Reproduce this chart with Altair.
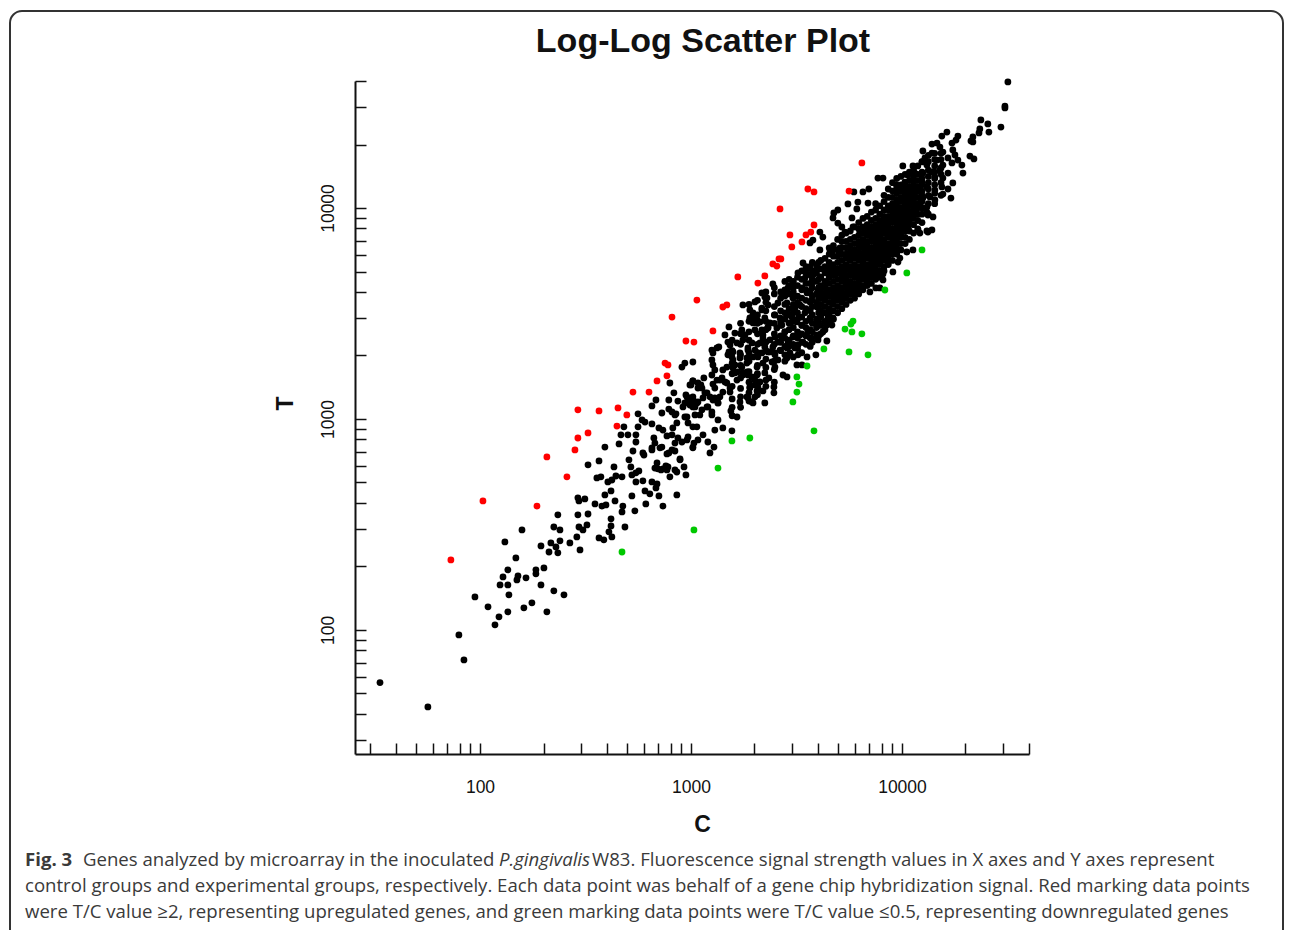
import altair as alt
import pandas as pd

# Values as log10(signal): (log10 C, log10 T)
red_pts = [(1.867,2.333),(2.019,2.614),(2.275,2.590),(2.322,2.824),(2.417,2.729),(2.455,2.857),(2.469,2.914),
 (2.469,3.048),(2.517,2.938),(2.569,3.043),(2.659,3.057),(2.654,2.971),(2.701,3.024),(2.730,3.133),(2.806,3.133),
 (2.844,3.186),(2.882,3.271),(2.896,3.262),(2.891,3.210),(2.915,3.490),(2.981,3.376),(3.019,3.371),(3.033,3.571),
 (3.109,3.424),(3.156,3.538),(3.175,3.548),(3.227,3.681),(3.322,3.652),(3.355,3.686),(3.393,3.743),(3.412,3.733),
 (3.422,3.767),(3.431,3.767),(3.483,3.824),(3.531,3.848),(3.427,4.005),(3.474,3.881),(3.550,3.881),(3.573,3.895),
 (3.588,3.929),(3.559,4.100),(3.588,4.086),(3.754,4.090),(3.815,4.224)]

green_pts = [(2.678,2.371),(3.019,2.476),(3.133,2.771),(3.199,2.900),(3.284,2.914),(3.588,2.948),(3.488,3.086),
 (3.507,3.133),(3.517,3.171),(3.507,3.205),(3.555,3.257),(3.635,3.338),(3.754,3.324),(3.844,3.310),(3.815,3.410),
 (3.768,3.419),(3.735,3.433),(3.763,3.457),(3.773,3.471),(3.924,3.619),(4.028,3.700),(4.100,3.810)]

black_low = [(1.531,1.749),(1.758,1.633),(1.929,1.857),(1.905,1.976),(2.076,2.024),(2.095,2.062),(2.043,2.110),
 (1.981,2.157),(2.137,2.086),(2.213,2.105),(2.251,2.129),(2.322,2.086),(2.142,2.167),(2.100,2.214),(2.137,2.214),
 (2.114,2.252),(2.137,2.286),(2.180,2.238),(2.185,2.257),(2.223,2.248),(2.270,2.267),(2.270,2.286),(2.308,2.295),
 (2.294,2.214),(2.355,2.186),(2.403,2.167),(2.175,2.343),(2.123,2.419),(2.204,2.476),(2.294,2.400),(2.341,2.414),
 (2.332,2.371),(2.374,2.367),(2.365,2.395),(2.384,2.424),(2.355,2.490),(2.384,2.476),(2.374,2.548),(2.431,2.414),
 (2.479,2.381),(2.464,2.443),(2.474,2.490),(2.493,2.476),(2.512,2.500),(2.469,2.548),(2.517,2.552),(2.469,2.629),
 (2.474,2.614),(2.502,2.624),(2.550,2.600),(2.583,2.590),(2.602,2.595),(2.626,2.529),(2.626,2.495),(2.616,2.467),
 (2.630,2.443),(2.569,2.438),(2.592,2.429),(2.692,2.490),(2.678,2.562),(2.682,2.590),(2.645,2.614),(2.597,2.643),
 (2.626,2.662),(2.739,2.567),(2.725,2.638),(2.791,2.600),(2.872,2.590),(2.853,2.638),(2.810,2.648),(2.787,2.662),
 (2.938,2.643),(2.559,2.724),(2.578,2.729),(2.611,2.705),(2.630,2.714),(2.649,2.733),(2.678,2.729),(2.744,2.705),
 (2.777,2.710),(2.820,2.705),(2.844,2.695),(2.839,2.676),(2.725,2.738),(2.744,2.748),(2.758,2.757),(2.517,2.786),
 (2.569,2.805),(2.640,2.776),(2.711,2.810),(2.720,2.776),(2.597,2.871),(2.664,2.886),(2.730,2.852),(2.744,2.895),
 (2.673,2.929),(2.706,2.929),(2.744,2.929),(2.687,2.967),(2.777,2.843),(2.782,2.833),(2.820,2.867),(2.867,2.871),
 (2.900,2.843),(2.929,2.852),(2.844,2.795),(2.872,2.767),(2.896,2.776),(2.863,2.762),(2.938,2.752),(2.905,2.729),
 (2.953,2.810),(2.981,2.738),(2.972,2.776)]

black_mid = [(2.754,3.029),(2.773,3.000),(2.787,2.990),(2.754,2.967),(2.820,2.981),(2.820,3.067),(2.839,3.095),
 (2.867,3.033),(2.900,3.095),(2.900,3.052),(2.924,3.129),(2.905,3.176),(2.943,3.090),(2.915,3.038),(2.934,3.029),
 (2.967,3.062),(2.981,3.119),(2.991,3.100),(3.000,3.071),(3.024,3.086),(3.014,3.186),(3.005,3.167),(3.038,3.152),
 (3.033,3.081),(3.014,3.062),(2.986,3.014),(2.991,2.986),(3.024,3.024),(3.014,2.967),(2.938,2.986),(2.919,2.962),
 (2.853,2.962),(2.872,2.952),(2.829,2.914),(2.834,2.890),(2.891,2.924),(2.915,2.929),(2.943,2.914),(2.962,2.895),
 (2.991,2.919),(3.019,2.890),(3.038,2.905),(2.929,2.890),(2.915,2.857),(2.891,2.838),(2.858,2.867),(2.820,2.857),
 (3.014,2.867),(2.953,2.814),(2.834,2.771),(2.848,2.767),(2.886,2.781),(2.891,2.762),(2.929,2.762),
 (3.199,2.948),(3.133,3.000),(3.156,2.962),(3.114,2.871),(3.085,2.895),(3.095,2.843),(3.118,2.952),(3.062,2.929),
 (3.014,2.871),(2.986,2.905),(2.976,3.014),(3.047,3.024),(3.033,2.967),(3.270,3.110),(3.299,3.081),(3.403,3.252)]

black_band = [(2.976,3.271),(3.014,3.276),(2.962,3.252),(3.014,3.186),(3.000,3.167),(3.066,3.200),(3.052,3.167),
 (3.109,3.171),(3.118,3.152),(3.081,3.129),(3.062,3.105),(3.038,3.086),(3.014,3.095),(2.986,3.110),(2.976,3.081),
 (3.024,3.062),(3.057,3.048),(3.085,3.062),(3.104,3.024),(3.133,3.081),(3.194,3.043),(3.223,3.014),(3.109,3.095),
 (3.142,3.110),(3.156,3.133),(3.128,3.190),(3.152,3.200),(3.175,3.176),(3.190,3.152),(3.223,3.190),(3.251,3.214),
 (3.270,3.229),(3.294,3.205),(3.318,3.214),(3.332,3.181),(3.308,3.167),(3.284,3.152),(3.318,3.138),(3.346,3.138),
 (3.308,3.110),(3.355,3.081),(3.275,3.105),(3.237,3.086),(3.294,3.086),(3.398,3.157),(3.398,3.129),(3.374,3.200),
 (3.441,3.214),(3.460,3.205),(3.104,3.286),(3.109,3.262),(3.118,3.238),(3.104,3.333),(3.137,3.348),(3.156,3.238),
 (3.175,3.252),(3.190,3.357),(3.185,3.324),(3.199,3.300),(3.204,3.286),(3.213,3.262),(3.237,3.295),(3.246,3.252),
 (3.213,3.224),(3.270,3.271),(3.284,3.300),(3.275,3.343),(3.294,3.367),(3.213,3.414),(3.246,3.429),(3.261,3.405),
 (3.185,3.443),(3.251,3.381),(3.223,3.367),(3.308,3.333),(3.322,3.300),(3.318,3.252),(3.346,3.271),(3.355,3.224),
 (3.332,3.367),(3.346,3.390),(3.379,3.381),(3.403,3.395),(3.417,3.371),(3.393,3.348),(3.370,3.324),(3.403,3.310),
 (3.427,3.333),(3.389,3.276),(3.417,3.286),(3.460,3.295),(3.474,3.319),(3.498,3.343),(3.512,3.310),(3.555,3.300),
 (3.597,3.310),(3.507,3.262),(3.531,3.262),(3.649,3.376),(3.607,3.381),(3.578,3.390),(3.536,3.371),(3.512,3.357),
 (3.465,3.367),(3.460,3.343),(3.488,3.395),(3.521,3.405),(3.559,3.419),(3.602,3.405),(3.630,3.419),(3.673,3.452),
 (3.649,3.452),(3.678,3.486),(3.251,3.548),(3.308,3.562),(3.341,3.524),(3.284,3.524),(3.294,3.490),(3.318,3.476),
 (3.299,3.462),(3.341,3.605),(3.365,3.581),(3.370,3.548),(3.393,3.648),(3.355,3.486),(3.379,3.462),(3.403,3.500),
 (3.341,3.429),(3.370,3.438),(3.308,3.429),(3.412,3.438),(3.436,3.452),(3.427,3.486),(3.450,3.419),(3.474,3.462),
 (3.450,3.510),(3.483,3.490),(3.507,3.467),(3.531,3.452),(3.417,3.557),(3.441,3.595),(3.465,3.629),(3.460,3.557),
 (3.488,3.581),(3.498,3.533),(3.521,3.548),(3.545,3.510),(3.569,3.486),(3.602,3.452),(3.488,3.657),(3.512,3.700),
 (3.531,3.629),(3.555,3.605),(3.578,3.571),(3.602,3.538),(3.630,3.510),(3.654,3.486),(3.545,3.676),(3.578,3.652),
 (3.607,3.619),(3.640,3.586),(3.673,3.557),(3.616,3.681),(3.649,3.652),(3.678,3.619),(3.697,3.586),(3.559,3.724),
 (3.536,3.748),(3.602,3.729),(3.654,3.729),(3.687,3.690),(3.583,3.690)]

black_extra = [(2.929,3.024),(3.000,3.095),(3.014,3.110),(3.038,3.176),(3.057,3.152),(3.071,3.129),(3.095,3.110),
 (3.118,3.105),(3.133,3.081),(3.081,3.062),(3.104,3.038),(3.190,3.133),(3.104,3.214),(3.142,3.190),(3.166,3.181),
 (3.204,3.248),(3.227,3.229),(3.251,3.224),(3.275,3.214),(3.308,3.190),(3.322,3.157),(3.284,3.157),(3.180,3.310),
 (3.204,3.324),(3.237,3.319),(3.275,3.333),(3.270,3.295),(3.299,3.300),(3.341,3.319),(3.355,3.348),(3.379,3.324),
 (3.346,3.405),(3.370,3.443),(3.332,3.467),(3.284,3.486),(3.299,3.510),(3.341,3.533),(3.355,3.586),(3.128,3.343),
 (3.109,3.319),(3.180,3.371),(3.166,3.405)]

black_high = [(3.891,4.152),(3.915,4.152),(3.777,4.086),(3.820,4.086),(3.848,4.100),(3.749,4.029),(3.796,4.038),
 (3.844,4.033),(3.701,4.000),(3.791,4.005),(3.682,3.986),(3.678,3.962),(3.701,3.938),(3.720,3.919),(3.735,3.895),
 (3.768,3.962),(3.773,3.919),(3.616,3.895),(3.630,3.871),(3.583,3.857),(3.569,3.843),(3.616,3.810),(3.664,3.810),
 (3.678,3.810),(3.711,3.819),(4.128,3.895),(4.090,3.890),(4.057,3.810),(4.028,3.800),(3.995,3.771),(3.986,3.752),
 (3.962,3.705),(3.915,3.695),(3.886,3.681),(3.915,3.667),(3.900,3.629),(3.881,3.629),(3.853,3.610),
 (4.507,4.610),(4.493,4.495),(4.493,4.486),(4.379,4.429),(4.412,4.410),(4.474,4.395),(4.417,4.371),(4.374,4.386),
 (4.370,4.367),(4.218,4.371),(4.194,4.352),(4.270,4.352),(4.261,4.333),(4.242,4.319),(4.341,4.348),(4.332,4.329),
 (4.341,4.324),(4.327,4.257),(4.346,4.243),(4.147,4.314),(4.171,4.319),(4.185,4.300),(4.104,4.281),(4.147,4.271),
 (4.199,4.276),(4.246,4.286),(4.256,4.262),(4.223,4.248),(4.114,4.248),(4.100,4.229),(4.123,4.214),(4.171,4.238),
 (4.199,4.214),(4.242,4.224),(4.270,4.238),(4.289,4.214),(4.294,4.176),(4.009,4.210),(4.057,4.210),(4.223,4.176),
 (4.185,4.190),(4.147,4.181),(4.246,4.129),(4.199,4.152),(4.066,4.176),(4.033,4.167),(4.104,4.176),(4.161,4.157),
 (4.194,4.110),(4.223,4.100),(4.199,4.076),(4.237,4.057),(4.152,3.967),(4.123,3.990),(4.128,3.976),(4.147,3.905),
 (4.123,3.900),(4.081,3.905),(4.104,4.057),(4.137,4.062),(4.161,4.048),(4.123,4.014),(4.090,4.033),(4.066,4.062),
 (4.028,4.081),(4.076,4.105),(4.123,4.110),(4.161,4.095),(3.981,4.119),(4.019,4.133),(4.057,4.143),(4.100,4.133)]

# Dense core, read column by column: (log10 C, [log10 T, ...])
core_cols = [
 (3.20,[3.02,3.06,3.10,3.16,3.22,3.27,3.33,3.38]),(3.24,[3.06,3.11,3.15,3.20,3.26,3.31,3.36,3.41,3.46]),
 (3.28,[3.09,3.13,3.18,3.23,3.28,3.32,3.38,3.42,3.47,3.55]),(3.32,[3.12,3.17,3.22,3.26,3.32,3.36,3.41,3.46,3.50,3.57]),
 (3.36,[3.16,3.19,3.25,3.29,3.33,3.37,3.43,3.47,3.52,3.56,3.61]),(3.40,[3.18,3.24,3.28,3.32,3.36,3.41,3.46,3.50,3.54,3.60,3.63]),
 (3.45,[3.28,3.31,3.35,3.39,3.42,3.48,3.55,3.59,3.62,3.66]),(3.49,[3.30,3.36,3.40,3.44,3.47,3.51,3.55,3.61,3.63,3.66]),
 (3.53,[3.32,3.37,3.41,3.45,3.49,3.54,3.58,3.62,3.67,3.71]),(3.57,[3.35,3.39,3.43,3.48,3.52,3.56,3.61,3.65,3.69,3.73]),
 (3.61,[3.40,3.47,3.51,3.54,3.58,3.63,3.67,3.72,3.75]),
 (3.43,[3.33,3.37,3.40,3.45,3.47,3.52,3.58,3.61]),(3.47,[3.35,3.38,3.43,3.46,3.50,3.53,3.60,3.64,3.67]),
 (3.51,[3.34,3.39,3.42,3.48,3.51,3.56,3.59,3.64,3.68]),(3.55,[3.36,3.40,3.44,3.47,3.53,3.57,3.62,3.65,3.70,3.73]),
 (3.58,[3.37,3.42,3.46,3.50,3.54,3.59,3.63,3.67,3.71,3.75]),(3.60,[3.44,3.48,3.56,3.60,3.66,3.70,3.74]),
 (3.62,[3.41,3.45,3.49,3.52,3.55,3.58,3.61,3.64,3.68,3.72,3.76]),(3.64,[3.43,3.47,3.51,3.54,3.57,3.60,3.63,3.66,3.70,3.73,3.77]),
 (3.66,[3.47,3.50,3.53,3.56,3.59,3.62,3.65,3.68,3.71,3.75,3.79,3.82]),(3.68,[3.48,3.52,3.55,3.58,3.60,3.63,3.66,3.69,3.72,3.74,3.78,3.83]),
 (3.70,[3.51,3.54,3.57,3.59,3.62,3.64,3.67,3.70,3.72,3.75,3.78,3.81,3.86]),(3.72,[3.53,3.56,3.58,3.61,3.63,3.66,3.68,3.71,3.73,3.76,3.79,3.82,3.85,3.88]),
 (3.74,[3.55,3.58,3.60,3.63,3.65,3.67,3.69,3.72,3.74,3.77,3.79,3.82,3.85,3.89]),(3.76,[3.57,3.60,3.62,3.64,3.66,3.69,3.71,3.73,3.76,3.78,3.80,3.83,3.86,3.90]),
 (3.78,[3.58,3.61,3.63,3.65,3.68,3.70,3.72,3.74,3.77,3.79,3.81,3.84,3.87,3.92]),(3.80,[3.60,3.63,3.65,3.67,3.69,3.71,3.73,3.76,3.78,3.80,3.83,3.85,3.88,3.91,3.94]),
 (3.82,[3.62,3.64,3.67,3.69,3.71,3.73,3.75,3.77,3.79,3.82,3.84,3.86,3.89,3.92,3.96]),(3.84,[3.64,3.66,3.68,3.70,3.72,3.74,3.77,3.79,3.81,3.83,3.85,3.88,3.90,3.93,3.97]),
 (3.86,[3.65,3.68,3.70,3.72,3.74,3.76,3.78,3.80,3.82,3.85,3.87,3.89,3.92,3.95,3.99]),(3.88,[3.67,3.70,3.72,3.74,3.76,3.78,3.80,3.82,3.84,3.86,3.88,3.91,3.93,3.96,4.00,4.03]),
 (3.90,[3.68,3.71,3.74,3.76,3.78,3.80,3.83,3.85,3.87,3.89,3.91,3.93,3.95,3.98,4.02]),(3.92,[3.71,3.73,3.76,3.78,3.80,3.82,3.84,3.86,3.89,3.91,3.93,3.95,3.97,4.00,4.04,4.07]),
 (3.94,[3.74,3.76,3.78,3.80,3.82,3.84,3.87,3.89,3.91,3.93,3.95,3.97,4.00,4.02,4.06,4.10]),(3.96,[3.76,3.79,3.81,3.83,3.85,3.87,3.89,3.91,3.94,3.96,3.98,4.00,4.03,4.06,4.09,4.13]),
 (3.98,[3.79,3.82,3.84,3.86,3.88,3.90,3.92,3.94,3.96,3.98,4.01,4.03,4.05,4.08,4.11,4.15]),(4.00,[3.81,3.84,3.87,3.89,3.91,3.93,3.95,3.97,3.99,4.01,4.04,4.06,4.09,4.12,4.16]),
 (4.02,[3.84,3.87,3.90,3.92,3.94,3.96,3.98,4.01,4.03,4.05,4.07,4.10,4.13,4.17]),(4.04,[3.86,3.90,3.93,3.95,3.97,3.99,4.02,4.04,4.06,4.08,4.11,4.14,4.18]),
 (4.06,[3.89,3.93,3.96,3.98,4.00,4.03,4.05,4.08,4.10,4.13,4.16,4.19]),(4.08,[3.91,3.95,3.98,4.01,4.03,4.06,4.09,4.11,4.14,4.17,4.21]),
 (4.10,[3.94,3.98,4.01,4.04,4.07,4.09,4.12,4.15,4.18,4.23]),(4.13,[3.98,4.03,4.07,4.10,4.13,4.16,4.19,4.23,4.26]),
 (4.16,[4.03,4.08,4.12,4.15,4.18,4.21,4.24,4.27]),(4.19,[4.07,4.13,4.17,4.20,4.24,4.27]),
]

x_ticks = [30,40,50,60,70,80,90,100,200,300,400,500,600,700,800,900,1000,2000,3000,4000,5000,6000,7000,8000,9000,
           10000,20000,30000,40000]
x_domain = [25.56, 40000]
y_domain = [25.8, 40000]

title_text = "Log-Log Scatter Plot"
caption_line1a = "Fig. 3"
caption_line1b = "Genes analyzed by microarray in the inoculated"
caption_line1c = "P.gingivalis"
caption_line1d = "W83. Fluorescence signal strength values in X axes and Y axes represent"
caption_line2 = "control groups and experimental groups, respectively. Each data point was behalf of a gene chip hybridization signal. Red marking data points"
caption_line3 = "were T/C value \u22652, representing upregulated genes, and green marking data points were T/C value \u22640.5, representing downregulated genes"

rows = []
for group, pts in [("black", black_low + black_mid + black_band + black_extra + black_high),
                   ("red", red_pts), ("green", green_pts)]:
    rows += [(c, t, group) for c, t in pts]
rows += [(c, t, "black") for c, ts in core_cols for t in ts]
df = pd.DataFrame(rows, columns=["log_c", "log_t", "group"])
# readings were taken with 100 at x=479 and 210 px per decade on T; the axes have 100 at 480 and 211 px per decade
df["C"] = 10 ** (df["log_c"] - 0.005)
df["T"] = 10 ** (2 + (df["log_t"] - 2) * 210 / 211)

W, H = 674, 673
FONT = "Liberation Sans"
label_expr = "indexof([100,1000,10000], datum.value) >= 0 ? format(datum.value, 'd') : ''"

points = alt.Chart(df).mark_point(shape="circle", filled=True, size=46, opacity=1).encode(
    x=alt.X("C:Q", scale=alt.Scale(type="log", domain=x_domain, nice=False),
            axis=alt.Axis(orient="top", offset=-H, values=x_ticks, grid=False, tickSize=11, tickWidth=1.5,
                          tickColor="#111", domainColor="#111", domainWidth=2, labelExpr=label_expr,
                          labelPadding=-44, labelBaseline="middle", labelOverlap=False, labelFlush=False,
                          labelFont=FONT, labelFontSize=17.5, labelColor="#111", labelBound=False,
                          title="C", titleFont=FONT, titleFontSize=23, titleFontWeight="bold", titleColor="#111",
                          titleX=347, titleY=-H+743+0, titleAlign="center", titleBaseline="middle", titlePadding=0)),
    y=alt.Y("T:Q", scale=alt.Scale(type="log", domain=y_domain, nice=False),
            axis=alt.Axis(orient="right", offset=-W, values=x_ticks, grid=False, tickSize=11, tickWidth=1.5,
                          tickColor="#111", domainColor="#111", domainWidth=2, labelExpr=label_expr,
                          labelPadding=-38, labelAngle=270, labelAlign="center", labelBaseline="middle",
                          labelOverlap=False, labelFlush=False, labelFont=FONT, labelFontSize=17.5, labelColor="#111",
                          labelBound=False,
                          title="T", titleFont=FONT, titleFontSize=23, titleFontWeight="bold", titleColor="#111",
                          titleAngle=270, titleX=-70, titleY=322, titleAlign="center", titleBaseline="middle")),
    color=alt.Color("group:N", legend=None,
                    scale=alt.Scale(domain=["black", "red", "green"], range=["#000000", "#ff0000", "#00c800"])),
    order=alt.Order("group:N"),
)

one = pd.DataFrame({"a": [0]})
frame = alt.Chart(one).mark_rect(filled=False, stroke="#333", strokeWidth=2, cornerRadius=12, clip=False).encode(
    x=alt.value(10 - 355), x2=alt.value(1283 - 355), y=alt.value(11 - 81), y2=alt.value(990 - 81))


def cap(text, px, py, weight="normal", style="normal"):
    return alt.Chart(pd.DataFrame({"t": [text]})).mark_text(
        align="left", baseline="middle", font="Open Sans", fontSize=18.6, color="#3a3a3a",
        fontWeight=weight, fontStyle=style).encode(
        text="t:N", x=alt.value(px - 355), y=alt.value(py - 81))


title_mark = alt.Chart(pd.DataFrame({"t": [title_text]})).mark_text(
    align="center", baseline="middle", font=FONT, fontSize=34, fontWeight="bold", color="#111").encode(
    text="t:N", x=alt.value(703 - 355), y=alt.value(42 - 81))

chart = alt.layer(
    frame, points, title_mark,
    cap(caption_line1a, 25, 860, weight="bold"),
    cap(caption_line1b, 83, 860),
    cap(caption_line1c, 499, 860, style="italic"),
    cap(caption_line1d, 592, 860),
    cap(caption_line2, 25, 886),
    cap(caption_line3, 25, 912),
).properties(
    width=W, height=H,
    autosize=alt.AutoSizeParams(type="none"),
    padding={"left": 347, "top": 73, "right": 255, "bottom": 176},
).configure_view(stroke=None)

chart.save("out.html", embed_options={"renderer": "svg", "actions": False})
